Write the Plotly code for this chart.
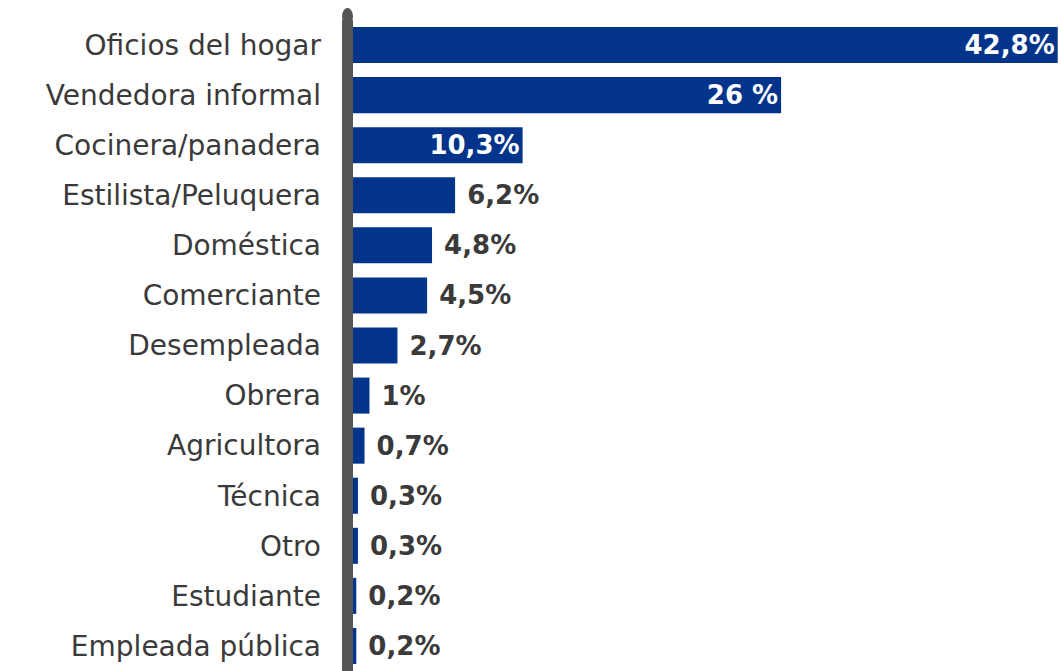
import plotly.graph_objects as go

categories = [
    "Oficios del hogar", "Vendedora informal", "Cocinera/panadera",
    "Estilista/Peluquera", "Doméstica", "Comerciante", "Desempleada",
    "Obrera", "Agricultora", "Técnica", "Otro", "Estudiante",
    "Empleada pública",
]
values = [42.8, 26, 10.3, 6.2, 4.8, 4.5, 2.7, 1, 0.7, 0.3, 0.3, 0.2, 0.2]
labels = ["42,8%", "26 %", "10,3%", "6,2%", "4,8%", "4,5%", "2,7%",
          "1%", "0,7%", "0,3%", "0,3%", "0,2%", "0,2%"]

BLUE = "#01348A"
TEXT = "#3a3a3a"
FONT = "DejaVu Sans"

NB = "\u00a0"
positions = ["inside" if v > 10 else "outside" for v in values]
shown = [t if p == "inside" else NB + t for t, p in zip(labels, positions)]

fig = go.Figure()
fig.add_trace(go.Bar(
    x=values,
    y=categories,
    orientation="h",
    marker=dict(color=BLUE, line=dict(width=0)),
    text=shown,
    textposition=positions,
    insidetextanchor="end",
    insidetextfont=dict(color="white", size=26, family=FONT),
    outsidetextfont=dict(color=TEXT, size=26, family=FONT),
    texttemplate="<b>%{text}</b>",
    constraintext="none",
    cliponaxis=False,
    width=0.72,
    hoverinfo="skip",
))

# thick grey axis line on the left of the bars
fig.add_shape(
    type="rect", xref="paper", yref="paper",
    x0=-0.0155, x1=0, y0=-0.02, y1=1.0,
    fillcolor="#555555", line=dict(width=0), layer="above",
)
fig.add_shape(
    type="circle", xref="paper", yref="paper",
    x0=-0.0155, x1=0, y0=0.993, y1=1.0185,
    fillcolor="#555555", line=dict(width=0), layer="above",
)

fig.update_layout(
    width=1061,
    height=671,
    margin=dict(l=353, r=0, t=20, b=0),
    paper_bgcolor="white",
    plot_bgcolor="white",
    showlegend=False,
    font=dict(family=FONT, color=TEXT),
)
fig.update_xaxes(
    range=[0, 43],
    visible=False,
    fixedrange=True,
)
fig.update_yaxes(
    autorange="reversed",
    showline=False,
    showgrid=False,
    zeroline=False,
    ticks="",
    ticklabelstandoff=31,
    tickfont=dict(size=28, color=TEXT, family=FONT),
    fixedrange=True,
)

fig.write_html(
    "out.html",
    config={"displayModeBar": False},
    post_script="document.body.style.margin='0';document.body.style.overflow='hidden';",
)
